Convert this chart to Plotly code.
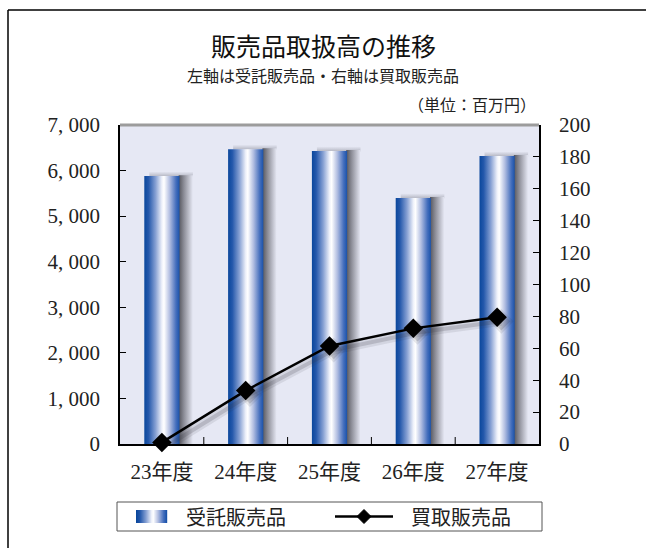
import plotly.graph_objects as go

# ---- data -------------------------------------------------------------
years = ["23年度", "24年度", "25年度", "26年度", "27年度"]
consign_sales = [5880, 6470, 6430, 5400, 6320]      # 受託販売品 (left axis)
purchase_sales = [1, 33.5, 61.5, 72.5, 79.5]        # 買取販売品 (right axis)
left_ticks = [0, 1000, 2000, 3000, 4000, 5000, 6000, 7000]
right_ticks = [0, 20, 40, 60, 80, 100, 120, 140, 160, 180, 200]

title_text = "販売品取扱高の推移"
subtitle_text = "左軸は受託販売品・右軸は買取販売品"
unit_text = "（単位：百万円）"
legend_names = ["受託販売品", "買取販売品"]

# ---- layout geometry (pixels) -----------------------------------------
W, H = 646, 548
ML, MR, MT, MB = 120, 107, 125, 104
PW, PH = W - ML - MR, H - MT - MB


def px(x):
    return (x - ML) / PW


def py(y):
    return (H - MB - y) / PH


BG = "#e6e8f4"
JP = "Noto Sans CJK JP"
NUM = "Liberation Serif, Noto Sans CJK JP"

BAR_SCALE = [
    [0.0, "#0a479c"], [0.12, "#2458ab"], [0.32, "#86a0d3"], [0.5, "#eef1fa"],
    [0.56, "#ffffff"], [0.72, "#b2bee1"], [0.9, "#456fbd"], [1.0, "#1a52aa"],
]
SHADOW_SIDE = [[0, "#55555c"], [0.35, "#8a8b95"], [1, BG]]
SHADOW_TOP = [[0, "#b4b6c2"], [1, BG]]


def hex_rgb(h):
    h = h.lstrip("#")
    return tuple(int(h[i:i + 2], 16) for i in (0, 2, 4))


def sample_scale(scale, t):
    for (t0, c0), (t1, c1) in zip(scale[:-1], scale[1:]):
        if t0 <= t <= t1:
            f = 0 if t1 == t0 else (t - t0) / (t1 - t0)
            a, b = hex_rgb(c0), hex_rgb(c1)
            return "rgb(%d,%d,%d)" % tuple(round(a[k] + (b[k] - a[k]) * f) for k in range(3))
    return scale[-1][1]


fig = go.Figure()

BAR_W = 0.42
SHADOW_W = 0.16
xs = list(range(len(years)))

# soft drop shadows behind each bar
for c, v in zip(xs, consign_sales):
    l, r = c - BAR_W / 2, c + BAR_W / 2
    fig.add_trace(go.Scatter(
        x=[l + 0.06, r + SHADOW_W, r + SHADOW_W, l + 0.06, l + 0.06],
        y=[v - 10, v - 10, v + 100, v + 100, v - 10],
        fill="toself", mode="lines", line=dict(width=0),
        fillgradient=dict(type="vertical", colorscale=SHADOW_TOP),
        hoverinfo="skip", showlegend=False, yaxis="y"))
    fig.add_trace(go.Scatter(
        x=[r - 0.01, r + SHADOW_W, r + SHADOW_W, r - 0.01, r - 0.01],
        y=[0, 0, v + 20, v + 20, 0],
        fill="toself", mode="lines", line=dict(width=0),
        fillgradient=dict(type="horizontal", colorscale=SHADOW_SIDE,
                          start=r - 0.01, stop=r + SHADOW_W),
        hoverinfo="skip", showlegend=False, yaxis="y"))

# cylinder-shaded bars
for c, v in zip(xs, consign_sales):
    l, r = c - BAR_W / 2, c + BAR_W / 2
    fig.add_trace(go.Scatter(
        x=[l, r, r, l, l], y=[0, 0, v, v, 0],
        fill="toself", mode="lines", line=dict(width=0),
        fillgradient=dict(type="horizontal", colorscale=BAR_SCALE),
        hoverinfo="skip", showlegend=False, yaxis="y"))

# blurred shadow of the line series (two soft layers)
for w, alpha, msize in [(9, 0.10, 19), (4, 0.18, 14)]:
    fig.add_trace(go.Scatter(
        x=[c + 0.05 for c in xs], y=[v - 2.6 for v in purchase_sales],
        mode="lines+markers", line=dict(color=f"rgba(50,50,60,{alpha})", width=w),
        marker=dict(symbol="diamond", size=msize, color=f"rgba(50,50,60,{alpha})"),
        hoverinfo="skip", showlegend=False, yaxis="y2", cliponaxis=False))

# line series on the right axis
fig.add_trace(go.Scatter(
    x=xs, y=purchase_sales, mode="lines+markers",
    line=dict(color="#000000", width=2.5),
    marker=dict(symbol="diamond", size=15, color="#000000"),
    name=legend_names[1], showlegend=False, yaxis="y2", cliponaxis=False))

fig.update_layout(
    width=W, height=H,
    margin=dict(l=ML, r=MR, t=MT, b=MB, autoexpand=False),
    paper_bgcolor="white", plot_bgcolor=BG,
    showlegend=False,
    xaxis=dict(
        range=[-0.5, 4.5], tickmode="array", tickvals=xs, ticktext=years,
        ticks="", showgrid=False, zeroline=False,
        showline=True, linecolor="#000000", linewidth=1.5,
        tickfont=dict(family=NUM, size=21, color="#222222"),
        ticklabelstandoff=8,
    ),
    yaxis=dict(
        range=[0, 7000], tickmode="array", tickvals=left_ticks,
        ticktext=[f"{v:,}".replace(",", ", ") for v in left_ticks],
        ticks="inside", ticklen=6, tickcolor="#000000", tickwidth=1,
        showgrid=False, zeroline=False,
        showline=True, linecolor="#000000", linewidth=1.5,
        tickfont=dict(family=NUM, size=21, color="#222222"),
        ticklabelstandoff=14,
    ),
    yaxis2=dict(
        range=[0, 200], overlaying="y", side="right",
        tickmode="array", tickvals=right_ticks, ticktext=[str(v) for v in right_ticks],
        ticks="inside", ticklen=6, tickcolor="#000000", tickwidth=1,
        showgrid=False, zeroline=False,
        showline=True, linecolor="#000000", linewidth=1.5,
        tickfont=dict(family=NUM, size=21, color="#222222"),
        ticklabelstandoff=14,
    ),
)

shapes = []
# category-boundary ticks on the x axis
for b in range(1, len(years)):
    shapes.append(dict(type="line", xref="x", yref="paper",
                       x0=b - 0.5, x1=b - 0.5, y0=0, y1=7 / PH,
                       line=dict(color="#000000", width=1)))
# outer frame (left and top edges)
shapes.append(dict(type="line", xref="paper", yref="paper",
                   x0=px(8), y0=py(560), x1=px(8), y1=py(10),
                   line=dict(color="#000000", width=1.5)))
shapes.append(dict(type="line", xref="paper", yref="paper",
                   x0=px(8), y0=py(10), x1=px(660), y1=py(10),
                   line=dict(color="#000000", width=1.5)))
# grey top edge of the plot area
shapes.append(dict(type="line", xref="paper", yref="paper",
                   x0=0, y0=1, x1=1, y1=1,
                   line=dict(color="#9c9c9c", width=3)))

# legend box
shapes.append(dict(type="rect", xref="paper", yref="paper",
                   x0=px(117), y0=py(531), x1=px(542), y1=py(502),
                   line=dict(color="#555555", width=1), fillcolor="white"))
# gradient swatch for the bar series
sw_l, sw_r, sw_t, sw_b = 136, 167, 510, 523
n = sw_r - sw_l
for i in range(n):
    shapes.append(dict(type="rect", xref="paper", yref="paper",
                       x0=px(sw_l + i), x1=px(sw_l + i + 1.2), y0=py(sw_b), y1=py(sw_t),
                       line=dict(width=0), fillcolor=sample_scale(BAR_SCALE, i / (n - 1))))
# line + diamond swatch for the line series
shapes.append(dict(type="line", xref="paper", yref="paper",
                   x0=px(335), y0=py(516.5), x1=px(393), y1=py(516.5),
                   line=dict(color="#000000", width=2.5)))
shapes.append(dict(type="path", xref="paper", yref="paper",
                   xsizemode="pixel", ysizemode="pixel",
                   xanchor=px(364), yanchor=py(516.5),
                   path="M -7 0 L 0 7 L 7 0 L 0 -7 Z",
                   fillcolor="#000000", line=dict(color="#000000", width=1)))
fig.update_layout(shapes=shapes)

annotations = [
    dict(text=title_text, x=px(323), y=py(45), font=dict(family=JP, size=25, color="#111111"),
         xanchor="center", yanchor="middle"),
    dict(text=subtitle_text, x=px(323), y=py(75), font=dict(family=JP, size=16, color="#222222"),
         xanchor="center", yanchor="middle"),
    dict(text=unit_text, x=px(538), y=py(104), font=dict(family=JP, size=16, color="#222222"),
         xanchor="right", yanchor="middle"),
    dict(text=legend_names[0], x=px(184), y=py(516.5), font=dict(family=JP, size=20, color="#222222"),
         xanchor="left", yanchor="middle"),
    dict(text=legend_names[1], x=px(409), y=py(516.5), font=dict(family=JP, size=20, color="#222222"),
         xanchor="left", yanchor="middle"),
]
for a in annotations:
    a.update(xref="paper", yref="paper", showarrow=False)
fig.update_layout(annotations=annotations)

fig.write_html("out.html")
